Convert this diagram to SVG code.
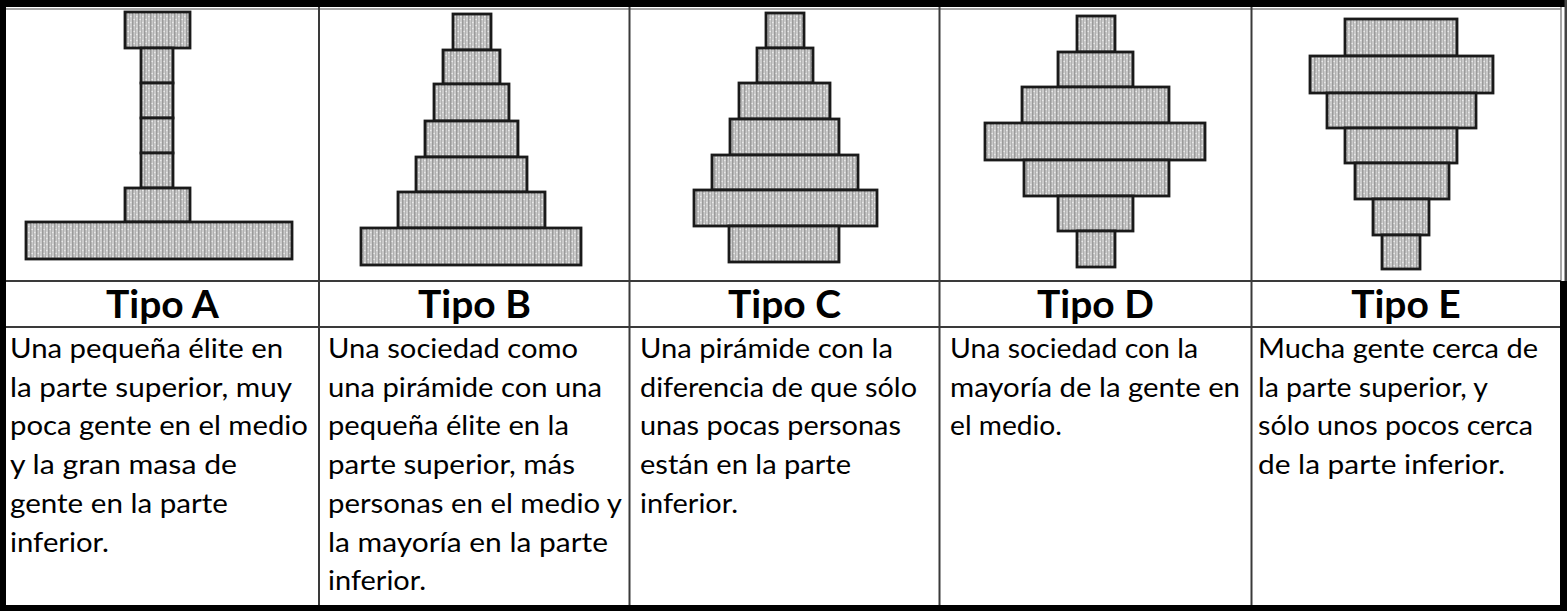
<svg xmlns="http://www.w3.org/2000/svg" width="1567" height="611" viewBox="0 0 1567 611">
<defs>
<pattern id="stip" width="6" height="6" patternUnits="userSpaceOnUse">
<rect width="6" height="6" fill="#c9c9c9"/>
<rect x="0" y="0" width="1.5" height="6" fill="#9a9a9a"/>
<rect x="3" y="0" width="1" height="6" fill="#b0b0b0"/>
<circle cx="2.2" cy="1.5" r="0.8" fill="#eeeeee"/>
<circle cx="4.8" cy="4.5" r="0.8" fill="#eeeeee"/>
</pattern>
<style>
.bar{fill:url(#stip);stroke:#1a1a1a;stroke-width:2.8}
.ttl{font-family:Lato,"Liberation Sans",sans-serif;font-weight:bold;font-size:39px;fill:#000;text-anchor:middle}
.txt{font-family:Lato,"Liberation Sans",sans-serif;font-size:27px;fill:#000}
.grid{stroke:#3a3a3a;stroke-width:2;fill:none}
.gray{stroke:#8a8a8a;stroke-width:1.5;fill:none}
</style>
</defs>
<rect width="1567" height="611" fill="#fff"/>

<g id="connectors">
<line class="gray" x1="6" y1="9" x2="1561" y2="9"/>
<line class="gray" x1="1561" y1="7" x2="1561" y2="282"/>
<line class="grid" x1="6" y1="281" x2="1561" y2="281"/>
<line class="grid" x1="6" y1="327" x2="1561" y2="327"/>
<line class="grid" x1="319" y1="7" x2="319" y2="606"/>
<line class="grid" x1="629.5" y1="7" x2="629.5" y2="606"/>
<line class="grid" x1="939.5" y1="7" x2="939.5" y2="606"/>
<line class="grid" x1="1251.5" y1="7" x2="1251.5" y2="606"/>
<rect x="0" y="0" width="1567" height="7" fill="#000"/>
<rect x="0" y="0" width="6" height="611" fill="#000"/>
<rect x="0" y="605" width="1567" height="6" fill="#000"/>
<rect x="1560" y="281" width="7" height="330" fill="#000"/>
<rect x="1564.5" y="0" width="2.5" height="281" fill="#444"/>
</g>

<g id="tipo-a">
<rect class="bar" x="125" y="12" width="65" height="36"/>
<rect class="bar" x="141" y="48" width="32" height="35"/>
<rect class="bar" x="141" y="83" width="32" height="35"/>
<rect class="bar" x="141" y="118" width="32" height="35"/>
<rect class="bar" x="141" y="153" width="32" height="35"/>
<rect class="bar" x="125" y="188" width="65" height="34"/>
<rect class="bar" x="26" y="222" width="266" height="37"/>
<text class="ttl" x="162.5" y="318">Tipo A</text>
<text class="txt" x="10" y="358" textLength="273" lengthAdjust="spacingAndGlyphs">Una pequeña élite en</text>
<text class="txt" x="10" y="396.7" textLength="282" lengthAdjust="spacingAndGlyphs">la parte superior, muy</text>
<text class="txt" x="10" y="435.4" textLength="298" lengthAdjust="spacingAndGlyphs">poca gente en el medio</text>
<text class="txt" x="10" y="474.1" textLength="227" lengthAdjust="spacingAndGlyphs">y la gran masa de</text>
<text class="txt" x="10" y="512.8" textLength="218" lengthAdjust="spacingAndGlyphs">gente en la parte</text>
<text class="txt" x="10" y="551.5" textLength="99" lengthAdjust="spacingAndGlyphs">inferior.</text>
</g>

<g id="tipo-b">
<rect class="bar" x="453" y="14" width="38" height="36"/>
<rect class="bar" x="443" y="50" width="57" height="34"/>
<rect class="bar" x="434" y="84" width="75" height="37"/>
<rect class="bar" x="425" y="121" width="93" height="36"/>
<rect class="bar" x="416" y="157" width="111" height="35"/>
<rect class="bar" x="398" y="192" width="147" height="36"/>
<rect class="bar" x="361" y="228" width="220" height="37"/>
<text class="ttl" x="474.5" y="318">Tipo B</text>
<text class="txt" x="328" y="358" textLength="250" lengthAdjust="spacingAndGlyphs">Una sociedad como</text>
<text class="txt" x="328" y="396.7" textLength="274" lengthAdjust="spacingAndGlyphs">una pirámide con una</text>
<text class="txt" x="328" y="435.4" textLength="241" lengthAdjust="spacingAndGlyphs">pequeña élite en la</text>
<text class="txt" x="328" y="474.1" textLength="247" lengthAdjust="spacingAndGlyphs">parte superior, más</text>
<text class="txt" x="328" y="512.8" textLength="294" lengthAdjust="spacingAndGlyphs">personas en el medio y</text>
<text class="txt" x="328" y="551.5" textLength="280" lengthAdjust="spacingAndGlyphs">la mayoría en la parte</text>
<text class="txt" x="328" y="590.2" textLength="98" lengthAdjust="spacingAndGlyphs">inferior.</text>
</g>

<g id="tipo-c">
<rect class="bar" x="766" y="13" width="38" height="35"/>
<rect class="bar" x="757" y="48" width="56" height="35"/>
<rect class="bar" x="739" y="83" width="91" height="36"/>
<rect class="bar" x="730" y="119" width="109" height="36"/>
<rect class="bar" x="712" y="155" width="146" height="35"/>
<rect class="bar" x="694" y="190" width="183" height="36"/>
<rect class="bar" x="729" y="226" width="110" height="36"/>
<text class="ttl" x="784.5" y="318">Tipo C</text>
<text class="txt" x="640" y="358" textLength="253" lengthAdjust="spacingAndGlyphs">Una pirámide con la</text>
<text class="txt" x="640" y="396.7" textLength="277" lengthAdjust="spacingAndGlyphs">diferencia de que sólo</text>
<text class="txt" x="640" y="435.4" textLength="261" lengthAdjust="spacingAndGlyphs">unas pocas personas</text>
<text class="txt" x="640" y="474.1" textLength="211" lengthAdjust="spacingAndGlyphs">están en la parte</text>
<text class="txt" x="640" y="512.8" textLength="98" lengthAdjust="spacingAndGlyphs">inferior.</text>
</g>

<g id="tipo-d">
<rect class="bar" x="1077" y="16" width="38" height="36"/>
<rect class="bar" x="1058" y="52" width="75" height="35"/>
<rect class="bar" x="1022" y="87" width="147" height="36"/>
<rect class="bar" x="985" y="123" width="220" height="37"/>
<rect class="bar" x="1024" y="160" width="145" height="36"/>
<rect class="bar" x="1058" y="196" width="75" height="35"/>
<rect class="bar" x="1077" y="231" width="38" height="36"/>
<text class="ttl" x="1095.5" y="318">Tipo D</text>
<text class="txt" x="950" y="358" textLength="248" lengthAdjust="spacingAndGlyphs">Una sociedad con la</text>
<text class="txt" x="950" y="396.7" textLength="290" lengthAdjust="spacingAndGlyphs">mayoría de la gente en</text>
<text class="txt" x="950" y="435.4" textLength="112" lengthAdjust="spacingAndGlyphs">el medio.</text>
</g>

<g id="tipo-e">
<rect class="bar" x="1345" y="19" width="112" height="37"/>
<rect class="bar" x="1310" y="56" width="183" height="37"/>
<rect class="bar" x="1327" y="93" width="149" height="35"/>
<rect class="bar" x="1345" y="128" width="112" height="35"/>
<rect class="bar" x="1355" y="163" width="94" height="36"/>
<rect class="bar" x="1373" y="199" width="56" height="36"/>
<rect class="bar" x="1382" y="235" width="38" height="34"/>
<text class="ttl" x="1406" y="318">Tipo E</text>
<text class="txt" x="1258" y="358" textLength="280" lengthAdjust="spacingAndGlyphs">Mucha gente cerca de</text>
<text class="txt" x="1258" y="396.7" textLength="230" lengthAdjust="spacingAndGlyphs">la parte superior, y</text>
<text class="txt" x="1258" y="435.4" textLength="275" lengthAdjust="spacingAndGlyphs">sólo unos pocos cerca</text>
<text class="txt" x="1258" y="474.1" textLength="247" lengthAdjust="spacingAndGlyphs">de la parte inferior.</text>
</g>
</svg>
